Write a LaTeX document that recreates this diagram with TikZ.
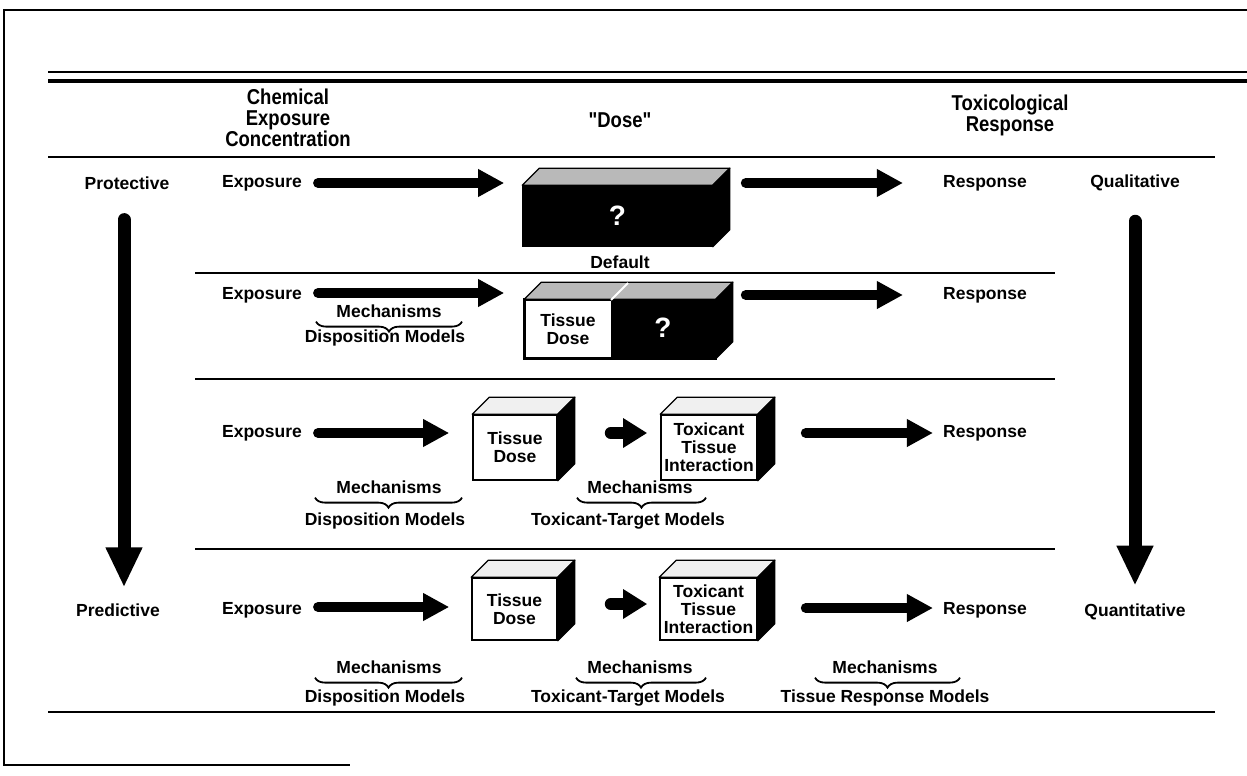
\documentclass[tikz,border=0pt]{standalone}
\usepackage{fontspec}
\setmainfont{Liberation Sans}
\newfontfamily\condfont[FakeStretch=0.86]{Liberation Sans}
\usetikzlibrary{arrows.meta,calc,decorations.pathreplacing}
\newcommand\boxfaces[2]{%
  \filldraw[fill=#2, line width=1.2pt, line join=round] (#1.north west) -- ++(17,-17) -- ($(#1.north east)+(17,-17)$) -- (#1.north east) -- cycle;
  \filldraw[fill=black, line width=1.2pt, line join=round] (#1.north east) -- ++(17,-17) -- ($(#1.south east)+(17,-17)$) -- (#1.south east) -- cycle;
}
\begin{document}
\begin{tikzpicture}[x=1pt,y=-1pt,
 lbl/.style={font=\bfseries\fontsize{17.5}{18}\selectfont, inner sep=0pt, align=center},
 hdr/.style={font=\condfont\bfseries\fontsize{21.5}{21}\selectfont, inner sep=0pt, align=center},
 qmark/.style={font=\bfseries\fontsize{28}{28}\selectfont, text=white, inner sep=0pt},
 fat/.style={line width=10pt, line cap=round, -{Triangle[length=26pt,width=26pt]}},
 stubby/.style={line width=12pt, line cap=round, -{Triangle[length=24pt,width=28pt]}},
 bigarrow/.style={line width=13pt, line cap=round, -{Triangle[length=40pt,width=34pt]}},
 front/.style={draw, line width=1.6pt, inner sep=0pt},
 rule/.style={line width=2.4pt},
 brc/.style={decorate, decoration={brace,mirror,amplitude=10pt}, line width=1.8pt},
]
\useasboundingbox (0,0) rectangle (1247,776);
\fill[white] (0,0) rectangle (1247,776);

% frame
\draw[line width=1.6pt] (1247,10) -- (4,10) -- (4,765) -- (350,765);
% rules
\draw[line width=2pt] (48,72) -- (1247,72);
\draw[line width=3.5pt] (48,81) -- (1247,81);
\draw[rule] (48,157) -- (1215,157);
\draw[rule] (48,712) -- (1215,712);
\draw[rule] (195,273) -- (1055,273);
\draw[rule] (195,379) -- (1055,379);
\draw[rule] (195,549) -- (1055,549);

% headers
\node[hdr] (hchem) at (288,118) {Chemical\\Exposure\\Concentration};
\node[hdr] (hdose) at (620,120) {"Dose"};
\node[hdr] (htox) at (1010,115) {Toxicological\\Response};

% side labels and big arrows
\node[lbl] (prot) at (127,183) {Protective};
\node[lbl] (pred) at (118,610) {Predictive};
\node[lbl] (qual) at (1135,183) {Qualitative};
\node[lbl] (quan) at (1135,612) {Quantitative};
\draw[bigarrow] ($(prot.south)+(-3,30)$) -- ($(pred.north)+(6,-16)$);
\draw[bigarrow] ($(qual.south)+(0,30)$) -- ($(quan.north)+(0,-18)$);

% ---------- row 1 ----------
\node[lbl] (e1) at (262,183) {Exposure};
\node[front, fill=black, minimum width=189pt, minimum height=60pt] (box1) at (617.5,216) {};
\boxfaces{box1}{gray!55}
\node[qmark] (q1) at (box1.center) {?};
\node[lbl] (def) at (620,262) {Default};
\node[lbl] (r1) at (985,183) {Response};
\draw[fat] ($(e1.east)+(16,0)$) -- ($(box1.west |- e1)+(-18,0)$);
\draw[fat] ($(box1.east |- r1)+(33,0)$) -- ($(r1.west)+(-40,0)$);

% ---------- row 2 ----------
\node[lbl] (e2) at (262,295) {Exposure};
\node[front, fill=white, minimum width=190pt, minimum height=58pt] (box2) at (620,329) {};
\fill[black] (611,300) rectangle (715,358);
\draw[line width=1.6pt] (box2.north west) rectangle (box2.south east);
\boxfaces{box2}{gray!55}
\draw[white, line width=2pt] (611,300) -- ++(17,-17);
\node[lbl] (td2) at (568,329) {Tissue\\Dose};
\node[qmark] (q2) at (663,328) {?};
\node[lbl] (r2) at (985,295) {Response};
\draw[fat] ($(e2.east)+(16,-2)$) -- ($(box2.west |- e2)+(-20,-2)$);
\draw[fat] ($(box2.east |- r2)+(30,0)$) -- ($(r2.west)+(-40,0)$);
\node[lbl] (m2) at (389,311) {Mechanisms};
\draw[brc] ($(m2.south)+(-73,4)$) -- ($(m2.south)+(73,4)$);
\node[lbl] (dm2) at (385,338) {Disposition Models};

% ---------- row 3 ----------
\node[lbl] (e3) at (262,433) {Exposure};
\node[front, fill=white, minimum width=84pt, minimum height=65pt] (box3a) at (515,447.5) {};
\boxfaces{box3a}{gray!12}
\node[lbl] at (box3a.center) {Tissue\\Dose};
\node[front, fill=white, minimum width=96pt, minimum height=65pt] (box3b) at (709,447.5) {};
\boxfaces{box3b}{gray!12}
\node[lbl] at (box3b.center) {Toxicant\\Tissue\\Interaction};
\node[lbl] (r3) at (985,433) {Response};
\draw[fat] ($(e3.east)+(16,0)$) -- ($(box3a.west |- e3)+(-23,0)$);
\draw[stubby] ($(box3a.east |- e3)+(53,0)$) -- ($(box3b.west |- e3)+(-13,0)$);
\draw[fat] ($(box3b.east |- r3)+(48,0)$) -- ($(r3.west)+(-10,0)$);
\node[lbl] (m3a) at (389,487) {Mechanisms};
\draw[brc] ($(m3a.south)+(-74,4)$) -- ($(m3a.south)+(73,4)$);
\node[lbl] (dm3) at (385,521) {Disposition Models};
\node[lbl] (m3b) at (640,487) {Mechanisms};
\draw[brc] ($(m3b.south)+(-63,4)$) -- ($(m3b.south)+(66,4)$);
\node[lbl] (tt3) at (628,521) {Toxicant-Target Models};

% ---------- row 4 ----------
\node[lbl] (e4) at (262,610) {Exposure};
\node[front, fill=white, minimum width=85pt, minimum height=62pt] (box4a) at (514.5,609) {};
\boxfaces{box4a}{gray!12}
\node[lbl] at (box4a.center) {Tissue\\Dose};
\node[front, fill=white, minimum width=97pt, minimum height=62pt] (box4b) at (708.5,609) {};
\boxfaces{box4b}{gray!12}
\node[lbl] at (box4b.center) {Toxicant\\Tissue\\Interaction};
\node[lbl] (r4) at (985,610) {Response};
\draw[fat] ($(e4.east)+(16,-3)$) -- ($(box4a.west |- e4)+(-22,-3)$);
\draw[stubby] ($(box4a.east |- e4)+(53,-6)$) -- ($(box4b.west |- e4)+(-12,-6)$);
\draw[fat] ($(box4b.east |- r4)+(48,-2)$) -- ($(r4.west)+(-10,-2)$);
\node[lbl] (m4a) at (389,667) {Mechanisms};
\draw[brc] ($(m4a.south)+(-74,4)$) -- ($(m4a.south)+(73,4)$);
\node[lbl] (dm4) at (385,698) {Disposition Models};
\node[lbl] (m4b) at (640,667) {Mechanisms};
\draw[brc] ($(m4b.south)+(-64,4)$) -- ($(m4b.south)+(66,4)$);
\node[lbl] (tt4) at (628,698) {Toxicant-Target Models};
\node[lbl] (m4c) at (885,667) {Mechanisms};
\draw[brc] ($(m4c.south)+(-70,4)$) -- ($(m4c.south)+(75,4)$);
\node[lbl] (trm) at (885,698) {Tissue Response Models};
\end{tikzpicture}
\end{document}
